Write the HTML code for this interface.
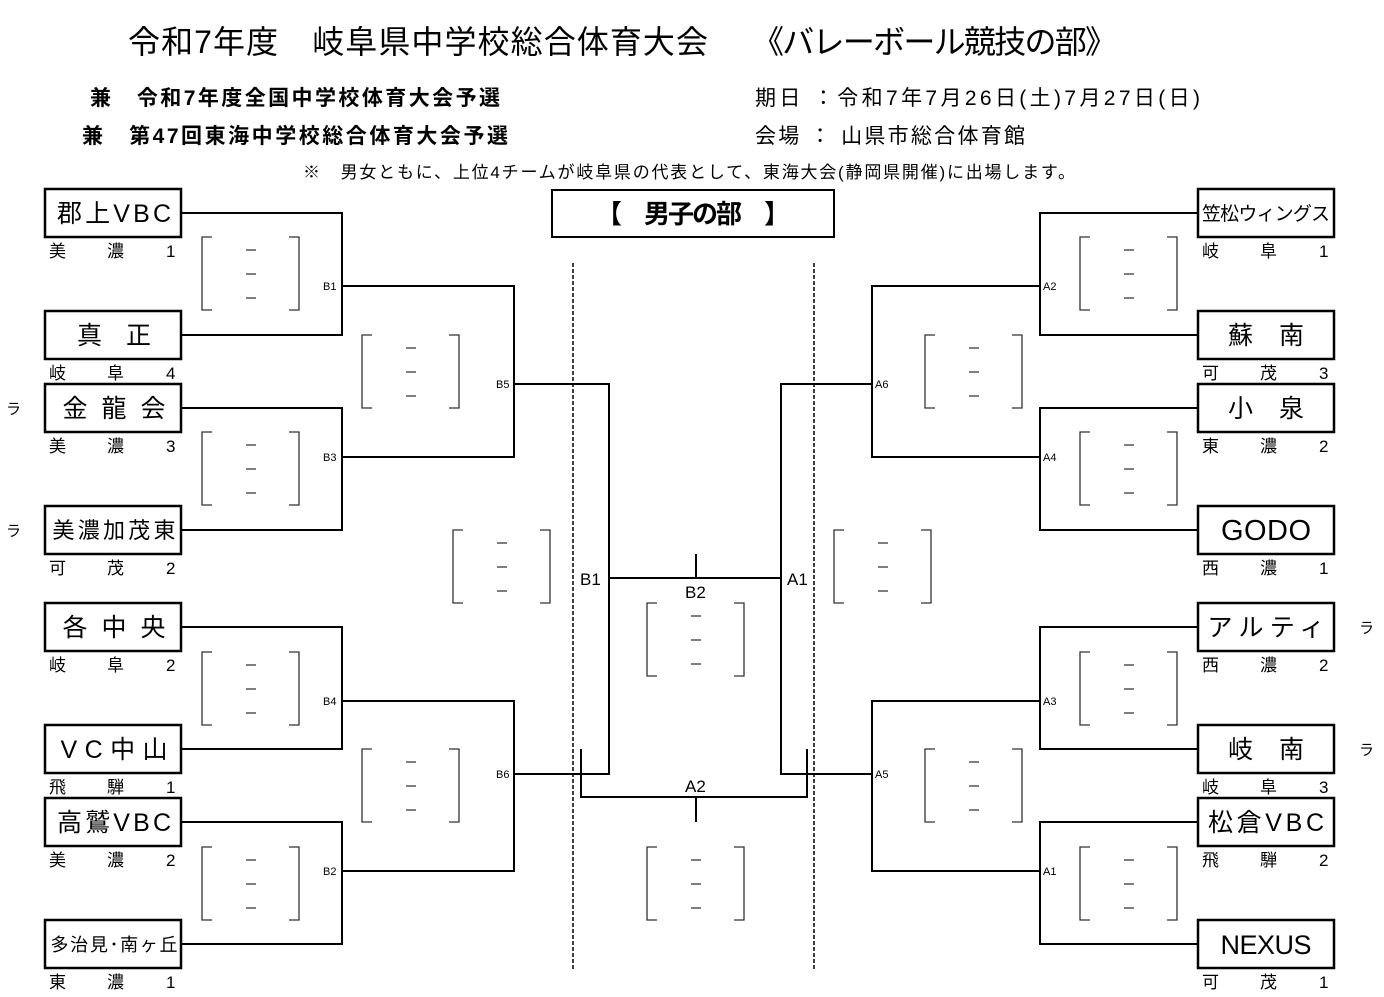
<!DOCTYPE html>
<html><head><meta charset="utf-8"><style>
body{margin:0;background:#fff;}
svg{display:block;font-family:"Liberation Sans","Noto Sans CJK JP",sans-serif;}
</style></head><body>
<svg width="1384" height="997" viewBox="0 0 1384 997" xmlns="http://www.w3.org/2000/svg">
<g fill="#000">
<text x="128" y="53" font-size="32" textLength="580" lengthAdjust="spacing">令和7年度　岐阜県中学校総合体育大会</text>
<text x="752" y="53" font-size="32" textLength="365" lengthAdjust="spacing">《バレーボール競技の部》</text>
<text x="90" y="105" font-size="21" font-weight="bold" textLength="410" lengthAdjust="spacing">兼　令和7年度全国中学校体育大会予選</text>
<text x="82" y="143" font-size="21" font-weight="bold" textLength="426" lengthAdjust="spacing">兼　第47回東海中学校総合体育大会予選</text>
<text x="755" y="105" font-size="21" textLength="445" lengthAdjust="spacing">期日 ：令和7年7月26日(土)7月27日(日)</text>
<text x="755" y="143" font-size="21" textLength="270" lengthAdjust="spacing">会場 ： 山県市総合体育館</text>
<text x="303" y="178" font-size="17" textLength="772" lengthAdjust="spacing">※　男女ともに、上位4チームが岐阜県の代表として、東海大会(静岡県開催)に出場します。</text>
</g>
<rect x="552" y="190" width="282" height="47" fill="none" stroke="#000" stroke-width="2"/>
<text x="693" y="223" font-size="26" font-weight="bold" text-anchor="middle" textLength="194" lengthAdjust="spacing">【　男子の部　】</text>

<g fill="none" stroke="#000" stroke-width="2.5">
<rect x="45" y="189" width="136" height="48"/><rect x="45" y="311" width="136" height="48"/>
<rect x="45" y="384" width="136" height="48"/><rect x="45" y="506" width="136" height="48"/>
<rect x="45" y="603" width="136" height="48"/><rect x="45" y="725" width="136" height="48"/>
<rect x="45" y="798" width="136" height="48"/><rect x="45" y="920" width="136" height="48"/>
<rect x="1198" y="189" width="136" height="48"/><rect x="1198" y="311" width="136" height="48"/>
<rect x="1198" y="384" width="136" height="48"/><rect x="1198" y="506" width="136" height="48"/>
<rect x="1198" y="603" width="136" height="48"/><rect x="1198" y="725" width="136" height="48"/>
<rect x="1198" y="798" width="136" height="48"/><rect x="1198" y="920" width="136" height="48"/>
</g>
<g fill="none" stroke="#000" stroke-width="2">
<polyline points="181,213 342,213 342,335 181,335"/>
<polyline points="181,408 342,408 342,530 181,530"/>
<polyline points="181,627 342,627 342,749 181,749"/>
<polyline points="181,822 342,822 342,944 181,944"/>
<polyline points="342,286 514,286 514,457 342,457"/>
<polyline points="342,701 514,701 514,871 342,871"/>
<polyline points="514,384 609,384 609,774 514,774"/>
<polyline points="1198,213 1040,213 1040,335 1198,335"/>
<polyline points="1198,408 1040,408 1040,530 1198,530"/>
<polyline points="1198,627 1040,627 1040,749 1198,749"/>
<polyline points="1198,822 1040,822 1040,944 1198,944"/>
<polyline points="1040,286 872,286 872,457 1040,457"/>
<polyline points="1040,701 872,701 872,871 1040,871"/>
<polyline points="872,384 781,384 781,774 872,774"/>
<line x1="609" y1="578" x2="781" y2="578"/>
<line x1="696" y1="554" x2="696" y2="578"/>
<polyline points="581,749 581,797 807,797 807,749"/>
<line x1="696" y1="797" x2="696" y2="822"/>
</g>
<g stroke="#000" stroke-width="1.5" stroke-dasharray="4,2">
<line x1="573" y1="263" x2="573" y2="970"/>
<line x1="814" y1="263" x2="814" y2="970"/>
</g>

<g fill="none" stroke="#333" stroke-width="1.3">
<path id="b" d="M212,237 H202 V310 H212 M289,237 H299 V310 H289 M246,250 H256 M246,274 H256 M246,298 H256"/>
<use href="#b" y="195"/><use href="#b" y="415"/><use href="#b" y="610"/>
<use href="#b" x="160" y="98"/><use href="#b" x="160" y="512"/>
<use href="#b" x="251" y="293"/><use href="#b" x="632" y="293"/>
<use href="#b" x="445" y="366"/><use href="#b" x="445" y="610"/>
<use href="#b" x="878"/><use href="#b" x="878" y="195"/><use href="#b" x="878" y="415"/><use href="#b" x="878" y="610"/>
<use href="#b" x="723" y="98"/><use href="#b" x="723" y="512"/>
</g>

<g font-size="11" fill="#000">
<text x="323" y="290">B1</text><text x="323" y="461">B3</text><text x="323" y="705">B4</text><text x="323" y="875">B2</text>
<text x="496" y="388">B5</text><text x="496" y="778">B6</text>
<text x="1043" y="290">A2</text><text x="1043" y="461">A4</text><text x="1043" y="705">A3</text><text x="1043" y="875">A1</text>
<text x="875" y="388">A6</text><text x="875" y="778">A5</text>
</g>
<g font-size="17" fill="#000">
<text x="580" y="585">B1</text><text x="787" y="585">A1</text>
<text x="685" y="598">B2</text><text x="685" y="792">A2</text>
<text x="6" y="414" font-size="15">ラ</text><text x="6" y="536" font-size="15">ラ</text>
<text x="1359" y="633" font-size="15">ラ</text><text x="1359" y="755" font-size="15">ラ</text>
</g>

<g font-size="25" fill="#000" text-anchor="middle" lengthAdjust="spacing">
<text x="114" y="222" textLength="114">郡上VBC</text>
<text x="114" y="344" textLength="74">真正</text>
<text x="114" y="417" textLength="103">金龍会</text>
<text x="114" y="538" font-size="22" textLength="123">美濃加茂東</text>
<text x="114" y="636" textLength="103">各中央</text>
<text x="114" y="758" textLength="107">VC中山</text>
<text x="114" y="831" textLength="114">高鷲VBC</text>
<text x="114" y="951" font-size="18" textLength="127">多治見･南ヶ丘</text>
<text x="1266" y="220" font-size="19" textLength="128">笠松ウィングス</text>
<text x="1266" y="344" textLength="76">蘇南</text>
<text x="1266" y="417" textLength="76">小泉</text>
<text x="1266" y="540" font-size="29" textLength="90">GODO</text>
<text x="1266" y="636" textLength="117">アルティ</text>
<text x="1266" y="758" textLength="76">岐南</text>
<text x="1266" y="831" textLength="116">松倉VBC</text>
<text x="1266" y="954" font-size="27" textLength="91">NEXUS</text>
</g>
<g font-size="17" fill="#000">
<text x="49" y="257">美</text><text x="107" y="257">濃</text><text x="166" y="257">1</text>
<text x="49" y="379">岐</text><text x="107" y="379">阜</text><text x="166" y="379">4</text>
<text x="49" y="452">美</text><text x="107" y="452">濃</text><text x="166" y="452">3</text>
<text x="49" y="574">可</text><text x="107" y="574">茂</text><text x="166" y="574">2</text>
<text x="49" y="671">岐</text><text x="107" y="671">阜</text><text x="166" y="671">2</text>
<text x="49" y="793">飛</text><text x="107" y="793">騨</text><text x="166" y="793">1</text>
<text x="49" y="866">美</text><text x="107" y="866">濃</text><text x="166" y="866">2</text>
<text x="49" y="988">東</text><text x="107" y="988">濃</text><text x="166" y="988">1</text>
<text x="1202" y="257">岐</text><text x="1260" y="257">阜</text><text x="1319" y="257">1</text>
<text x="1202" y="379">可</text><text x="1260" y="379">茂</text><text x="1319" y="379">3</text>
<text x="1202" y="452">東</text><text x="1260" y="452">濃</text><text x="1319" y="452">2</text>
<text x="1202" y="574">西</text><text x="1260" y="574">濃</text><text x="1319" y="574">1</text>
<text x="1202" y="671">西</text><text x="1260" y="671">濃</text><text x="1319" y="671">2</text>
<text x="1202" y="793">岐</text><text x="1260" y="793">阜</text><text x="1319" y="793">3</text>
<text x="1202" y="866">飛</text><text x="1260" y="866">騨</text><text x="1319" y="866">2</text>
<text x="1202" y="988">可</text><text x="1260" y="988">茂</text><text x="1319" y="988">1</text>
</g>
</svg>
</body></html>
